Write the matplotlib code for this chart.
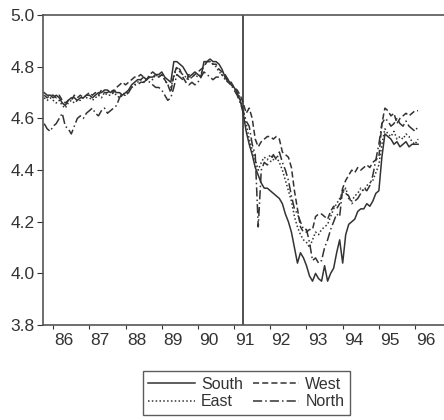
import numpy as np
import matplotlib
matplotlib.use("Agg")
import matplotlib.pyplot as plt

plt.rcParams["font.family"] = ["Liberation Sans", "DejaVu Sans"]

# monthly data, 1985:10 .. 1996:02
start_year = 1985.75
south = [4.70, 4.69, 4.69,
         4.68, 4.69, 4.68, 4.66, 4.65, 4.67, 4.68, 4.68, 4.67, 4.68, 4.68, 4.69,
         4.69, 4.68, 4.69, 4.70, 4.70, 4.71, 4.71, 4.70, 4.71, 4.70, 4.70, 4.69,
         4.70, 4.71, 4.73, 4.74, 4.75, 4.75, 4.76, 4.75, 4.76, 4.76, 4.77, 4.77,
         4.78, 4.76, 4.75, 4.74, 4.82, 4.82, 4.81, 4.80, 4.78, 4.76, 4.77, 4.78,
         4.77, 4.76, 4.82, 4.82, 4.83, 4.82, 4.82, 4.81, 4.79, 4.76, 4.75, 4.73,
         4.72, 4.70, 4.67, 4.62, 4.55, 4.50, 4.46, 4.41, 4.38, 4.35, 4.33, 4.33,
         4.32, 4.31, 4.30, 4.29, 4.27, 4.23, 4.20, 4.16, 4.10, 4.04, 4.08, 4.06,
         4.03, 3.99, 3.97, 4.00, 3.98, 3.97, 4.03, 3.97, 4.00, 4.02, 4.08, 4.13,
         4.04, 4.15, 4.19, 4.20, 4.21, 4.24, 4.25, 4.25, 4.27, 4.26, 4.28, 4.31,
         4.32, 4.45, 4.54, 4.53, 4.52, 4.50, 4.51, 4.49, 4.50, 4.51, 4.49, 4.50,
         4.50, 4.50]
west = [4.69, 4.68, 4.69,
        4.69, 4.68, 4.69, 4.67, 4.66, 4.67, 4.67, 4.69, 4.68, 4.69, 4.68, 4.69,
        4.70, 4.69, 4.70, 4.69, 4.71, 4.70, 4.70, 4.71, 4.70, 4.72, 4.73, 4.74,
        4.73, 4.74, 4.75, 4.76, 4.76, 4.77, 4.76, 4.75, 4.77, 4.78, 4.77, 4.76,
        4.77, 4.75, 4.73, 4.70, 4.77, 4.80, 4.79, 4.76, 4.74, 4.77, 4.76, 4.77,
        4.78, 4.79, 4.80, 4.82, 4.82, 4.81, 4.81, 4.79, 4.78, 4.77, 4.75, 4.74,
        4.72, 4.71, 4.69, 4.66, 4.62, 4.64, 4.60, 4.52, 4.49, 4.51, 4.52, 4.53,
        4.53, 4.52, 4.53, 4.52, 4.47, 4.46, 4.45, 4.41, 4.32, 4.25, 4.18, 4.16,
        4.16, 4.17, 4.17, 4.22, 4.23, 4.23, 4.22, 4.21, 4.24, 4.26, 4.25, 4.27,
        4.33, 4.36, 4.38, 4.40, 4.39, 4.41, 4.40, 4.41, 4.42, 4.41, 4.43, 4.44,
        4.45, 4.58, 4.64, 4.63, 4.61, 4.62, 4.58, 4.60, 4.61, 4.62, 4.61, 4.62,
        4.63, 4.63]
east = [4.68, 4.67, 4.68,
        4.67, 4.66, 4.67, 4.65, 4.64, 4.66, 4.67, 4.66, 4.67, 4.67, 4.68, 4.68,
        4.68, 4.67, 4.68, 4.69, 4.68, 4.70, 4.69, 4.69, 4.70, 4.69, 4.68, 4.69,
        4.69, 4.71, 4.72, 4.73, 4.74, 4.75, 4.74, 4.75, 4.76, 4.75, 4.77, 4.76,
        4.77, 4.75, 4.73, 4.72, 4.76, 4.80, 4.78, 4.77, 4.76, 4.75, 4.76, 4.77,
        4.76, 4.77, 4.81, 4.82, 4.82, 4.81, 4.80, 4.78, 4.77, 4.75, 4.74, 4.73,
        4.72, 4.70, 4.68, 4.63, 4.58, 4.52, 4.48, 4.44, 4.40, 4.43, 4.45, 4.44,
        4.46, 4.44, 4.45, 4.43, 4.40, 4.36, 4.32, 4.28, 4.22, 4.18, 4.15, 4.13,
        4.12, 4.10, 4.13, 4.16, 4.15, 4.17, 4.18, 4.19, 4.22, 4.25, 4.27, 4.29,
        4.31, 4.33, 4.29, 4.28, 4.30, 4.31, 4.33, 4.32, 4.34, 4.35, 4.36, 4.39,
        4.42, 4.50, 4.56, 4.54, 4.53, 4.55, 4.52, 4.53, 4.52, 4.54, 4.53, 4.51,
        4.50, 4.52]
north = [4.58, 4.56, 4.55,
         4.57, 4.58, 4.60, 4.62, 4.57, 4.56, 4.54, 4.57, 4.60, 4.61, 4.60, 4.62,
         4.63, 4.64, 4.62, 4.61, 4.63, 4.64, 4.62, 4.63, 4.64, 4.65, 4.68, 4.70,
         4.69, 4.70, 4.72, 4.73, 4.73, 4.74, 4.74, 4.75, 4.74, 4.73, 4.72, 4.72,
         4.71, 4.69, 4.67, 4.68, 4.72, 4.77, 4.76, 4.75, 4.74, 4.73, 4.74, 4.73,
         4.74, 4.76, 4.78, 4.77, 4.76, 4.75, 4.76, 4.76, 4.77, 4.76, 4.74, 4.73,
         4.71, 4.69, 4.66, 4.63, 4.59, 4.57, 4.50, 4.46, 4.18, 4.40, 4.43, 4.42,
         4.43, 4.46, 4.44, 4.47, 4.43, 4.40, 4.36, 4.30, 4.25, 4.23, 4.20, 4.17,
         4.17, 4.12, 4.05, 4.06, 4.04, 4.05, 4.10, 4.13, 4.17, 4.20, 4.23, 4.22,
         4.33, 4.31, 4.30, 4.27, 4.28, 4.29, 4.31, 4.33, 4.32, 4.34, 4.38, 4.44,
         4.50, 4.58, 4.60, 4.59, 4.57, 4.58, 4.60, 4.58, 4.57, 4.59, 4.57, 4.56,
         4.55, 4.57]

years = [86, 87, 88, 89, 90, 91, 92, 93, 94, 95, 96]
break_date = 1991.25

t = start_year + np.arange(len(south)) / 12.0
ink = "#333333"

fig = plt.figure(figsize=(4.44, 4.20), dpi=100)
ax = fig.add_axes([0.097, 0.226, 0.903, 0.738])

ax.plot(t, south, color=ink, lw=1.1, ls="-", label="South")
ax.plot(t, east, color=ink, lw=1.1, ls=(0, (1, 1.5)), label="East")
ax.plot(t, west, color=ink, lw=1.1, ls=(0, (4, 2)), label="West")
ax.plot(t, north, color=ink, lw=1.1, ls=(0, (6, 2, 1, 2)), label="North")
ax.axvline(break_date, color=ink, lw=1.2)

ax.set_xlim(1985.72, 1996.80)
ax.set_ylim(3.8, 5.0)
ax.set_yticks(np.arange(3.8, 5.01, 0.2))
ax.set_yticklabels([f"{v:.1f}" for v in np.arange(3.8, 5.01, 0.2)])

ax.set_xticks([1900 + y for y in years])
ax.set_xticklabels([])
ax.set_xticks([1900 + y + 0.3 for y in years], minor=True)
ax.set_xticklabels([str(y) for y in years], minor=True)
ax.tick_params(axis="x", which="major", length=3, color=ink)
ax.tick_params(axis="x", which="minor", length=0, pad=6, labelsize=12.5, labelcolor=ink)
ax.tick_params(axis="y", length=4, pad=2, color=ink, labelsize=12.5, labelcolor=ink)

ax.spines["right"].set_visible(False)
for s in ["left", "bottom", "top"]:
    ax.spines[s].set_color("#555555")
    ax.spines[s].set_linewidth(1.2)

leg = fig.legend(loc="center", bbox_to_anchor=(0.555, 0.064), ncol=2,
                 fontsize=11.5, frameon=True, fancybox=False, handlelength=2.9,
                 columnspacing=0.6, handletextpad=0.4, labelspacing=0.15,
                 borderpad=0.35, borderaxespad=0)
leg.get_frame().set_edgecolor(ink)
leg.get_frame().set_linewidth(1.0)
for txt in leg.get_texts():
    txt.set_color(ink)

fig.savefig("out.png", dpi=100)
